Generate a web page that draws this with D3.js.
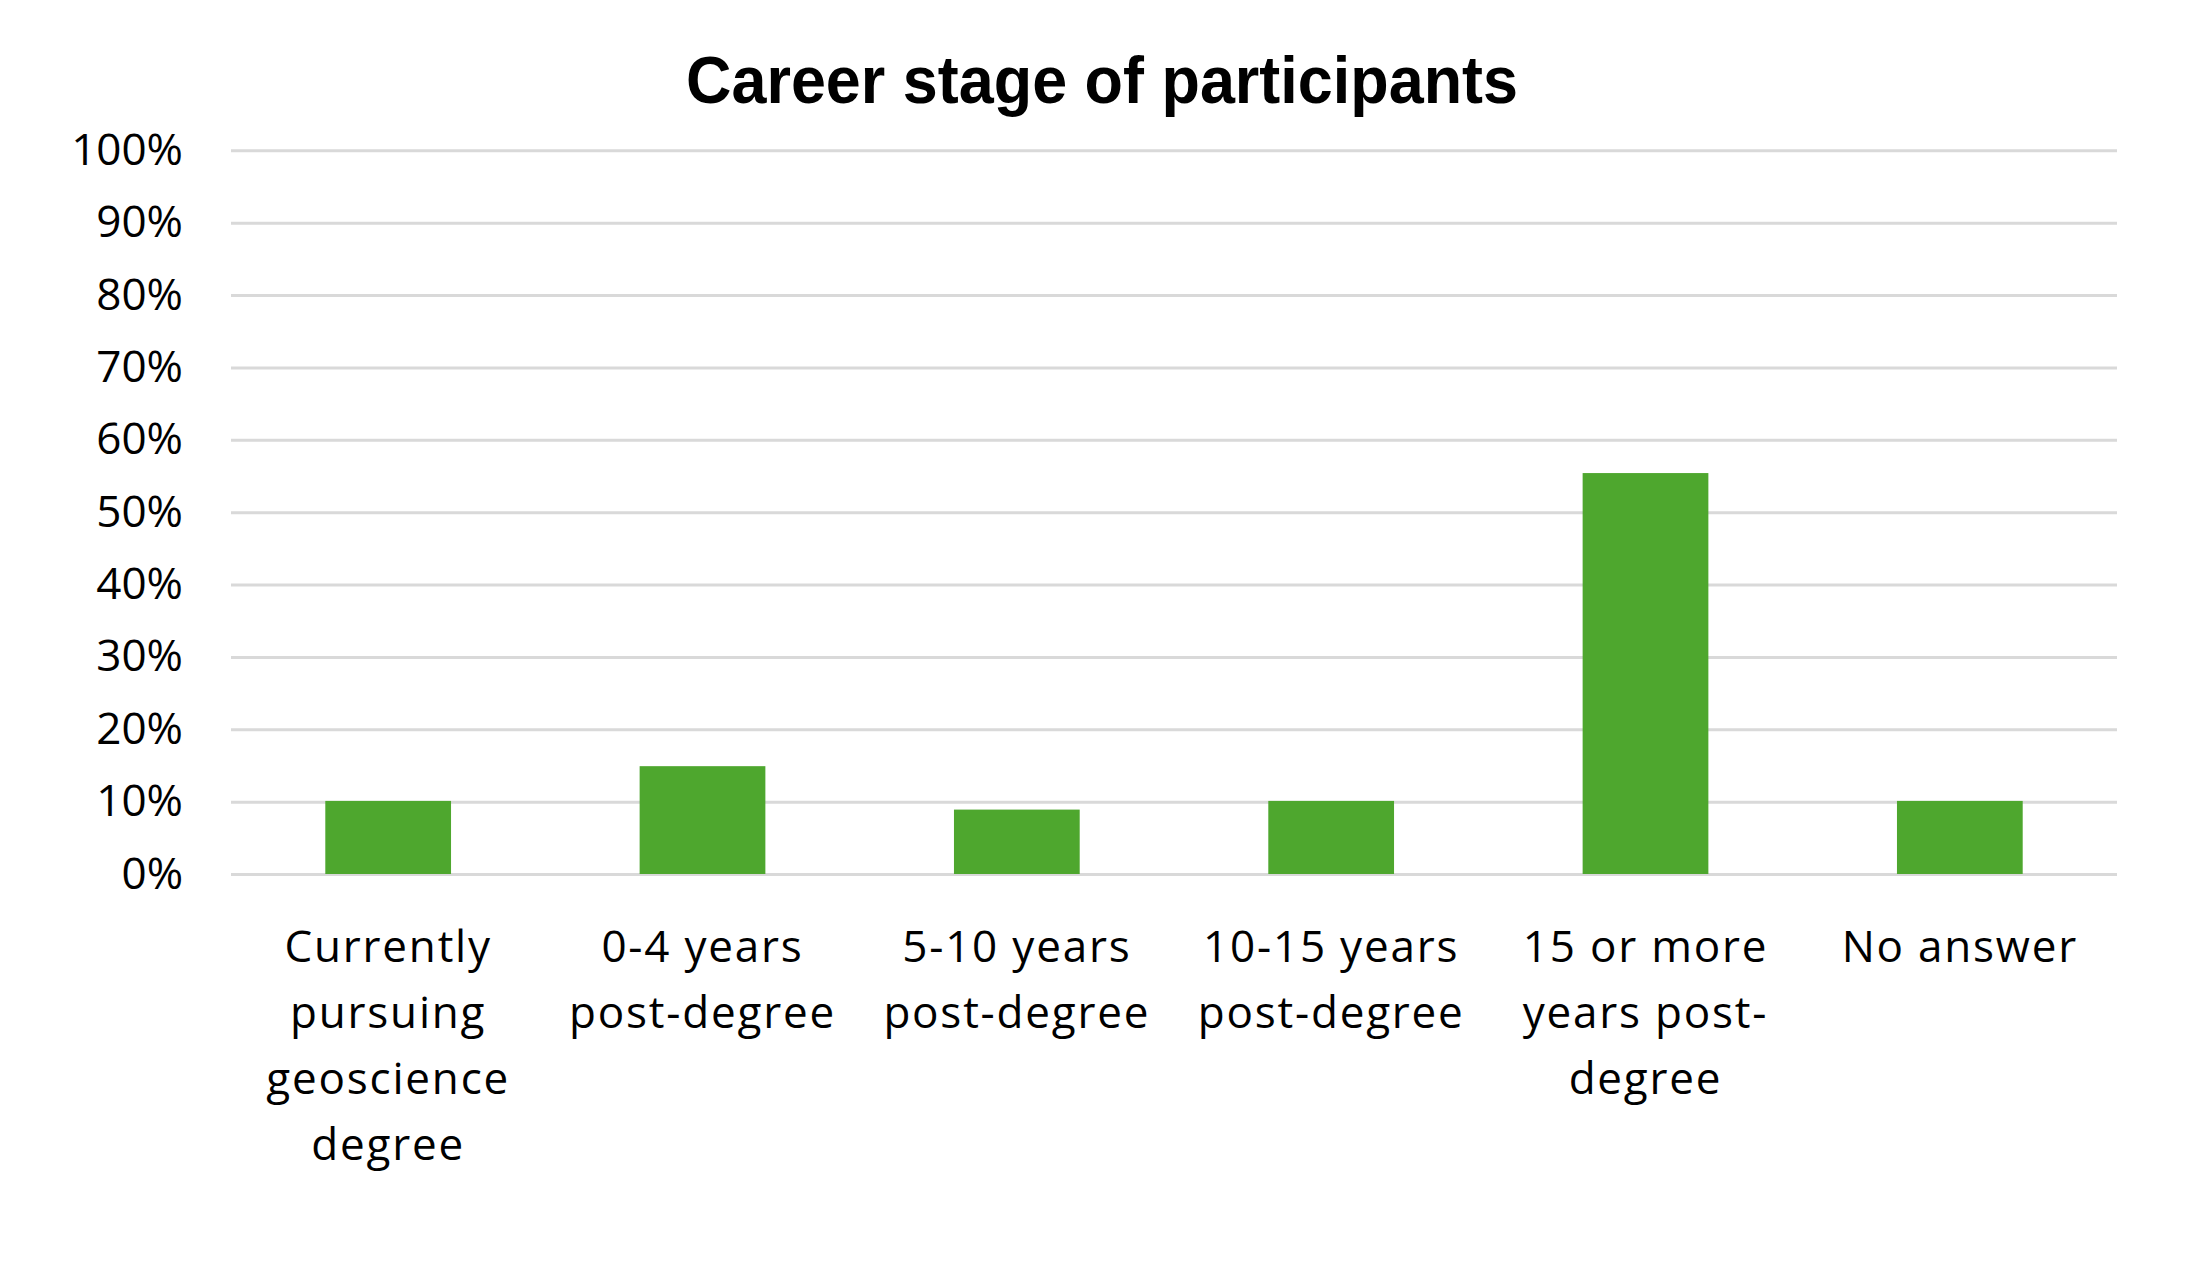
<!DOCTYPE html>
<html>
<head>
<meta charset="utf-8">
<script src="https://cdn.jsdelivr.net/npm/d3@7"></script>
<style>
  body { margin: 0; background: #fff; }
  text { font-family: "Open Sans", "Noto Sans", sans-serif; fill: #000; }
</style>
</head>
<body>
<div id="chart"></div>
<script>
// data
var categories = [
    "Currently pursuing geoscience degree",
    "0-4 years post-degree",
    "5-10 years post-degree",
    "10-15 years post-degree",
    "15 or more years post-degree",
    "No answer"
];
var labelLines = [
    ["Currently", "pursuing", "geoscience", "degree"],
    ["0-4 years", "post-degree"],
    ["5-10 years", "post-degree"],
    ["10-15 years", "post-degree"],
    ["15 or more", "years post-", "degree"],
    ["No answer"]
];
var shares = [0.101, 0.149, 0.089, 0.101, 0.554, 0.101];
var yTicks = [0, 0.1, 0.2, 0.3, 0.4, 0.5, 0.6, 0.7, 0.8, 0.9, 1];
var title = "Career stage of participants";

var width = 2200;
var height = 1272;
var margin = {top: 150.3, right: 83, bottom: 398, left: 231};
var plotW = width - margin.left - margin.right;
var plotH = height - margin.top - margin.bottom;

var scaleX = d3.scaleBand()
    .domain(categories)
    .range([0, plotW])
    .paddingInner(0.6)
    .paddingOuter(0.3);

var scaleY = d3.scaleLinear()
    .domain([0, 1])
    .range([plotH, 0]);

var svg = d3.select("#chart")
    .append("svg")
    .attr("width", width)
    .attr("height", height);

svg.append("rect")
    .attr("width", width)
    .attr("height", height)
    .attr("fill", "#fff");

svg.append("text")
    .attr("x", 1102)
    .attr("y", 103)
    .attr("text-anchor", "middle")
    .attr("textLength", 832)
    .attr("lengthAdjust", "spacingAndGlyphs")
    .style("font-family", "'Liberation Sans', Arial, sans-serif")
    .style("font-weight", "bold")
    .style("font-size", "67px")
    .text(title);

var chart = svg.append("g")
    .attr("transform", "translate(" + margin.left + "," + margin.top + ")");

// gridlines + percentage labels
var yAxis = d3.axisLeft(scaleY)
    .tickValues(yTicks)
    .tickFormat(d3.format(".0%"))
    .tickSize(-plotW)
    .tickPadding(48);

var gy = chart.append("g").call(yAxis);
gy.select(".domain").remove();
gy.selectAll(".tick line")
    .attr("stroke", "#d9d9d9")
    .attr("stroke-width", 3);
gy.selectAll(".tick text")
    .attr("font-family", null)
    .style("font-size", "44px")
    .attr("fill", "#000");

// bars
chart.selectAll(".bar")
    .data(shares)
    .enter()
    .append("rect")
    .classed("bar", true)
    .attr("x", function(d, i) { return scaleX(categories[i]); })
    .attr("width", scaleX.bandwidth())
    .attr("y", function(d) { return scaleY(d); })
    .attr("height", function(d) { return scaleY(0) - scaleY(d); })
    .attr("fill", "#4ea72e");

// category labels, wrapped like the original
var label = chart.selectAll(".cat")
    .data(categories)
    .enter()
    .append("text")
    .classed("cat", true)
    .attr("text-anchor", "middle")
    .attr("transform", function(d) {
        return "translate(" + (scaleX(d) + scaleX.bandwidth() / 2) + "," + (plotH + 87.5) + ")";
    })
    .style("font-size", "44px")
    .style("letter-spacing", "1.8px");

label.selectAll("tspan")
    .data(function(d, i) { return labelLines[i]; })
    .enter()
    .append("tspan")
    .attr("x", 0)
    .attr("y", function(d, i) { return i * 66; })
    .text(function(d) { return d; });
</script>
</body>
</html>
